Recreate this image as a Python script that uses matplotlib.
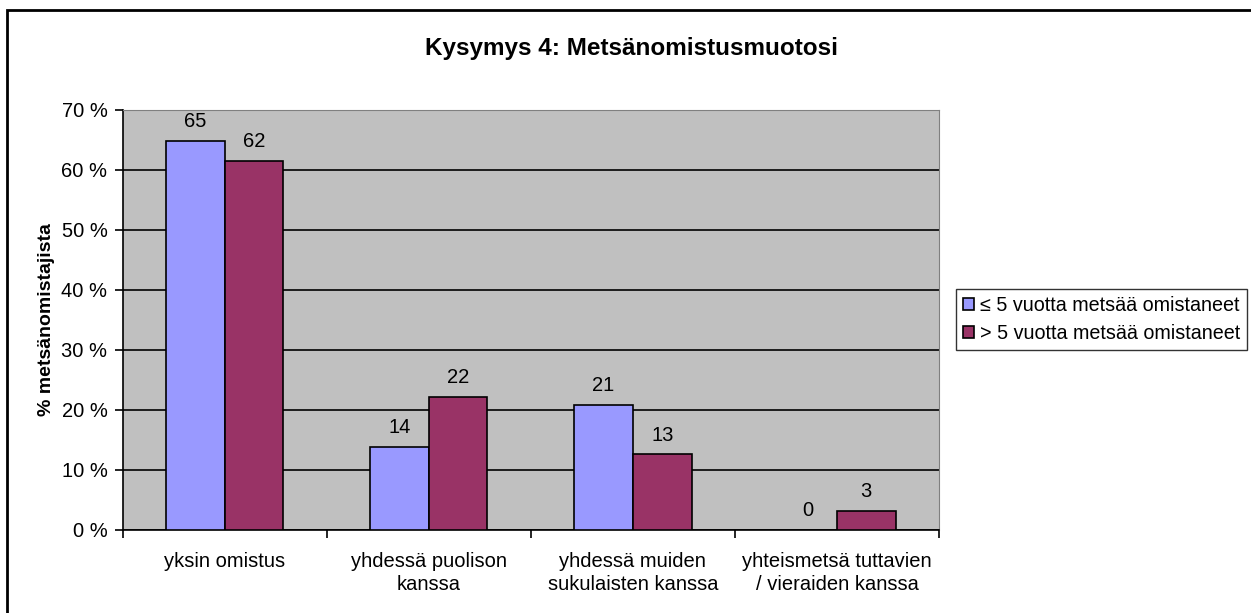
import numpy as np
import matplotlib.pyplot as plt
from matplotlib.patches import Rectangle

plt.rcParams['font.family'] = ['Liberation Sans', 'DejaVu Sans']

# Data
categories = ['yksin omistus', 'yhdessä puolison\nkanssa',
              'yhdessä muiden\nsukulaisten kanssa',
              'yhteismetsä tuttavien\n/ vieraiden kanssa']
series_names = ['≤ 5 vuotta metsää omistaneet', '> 5 vuotta metsää omistaneet']
short_owners = [64.8, 13.9, 20.9, 0.0]
long_owners = [61.5, 22.2, 12.6, 3.2]
colors = ['#9999FF', '#993366']

fig = plt.figure(figsize=(12.51, 6.13), dpi=100)
ax = fig.add_axes([0.0981, 0.1354, 0.6525, 0.6852])
ax.set_facecolor('#C0C0C0')

x = np.arange(len(categories))
w = 0.2875
b1 = ax.bar(x - w / 2, short_owners, w, color=colors[0], edgecolor='black',
            linewidth=1.2, label=series_names[0], zorder=3)
b2 = ax.bar(x + w / 2, long_owners, w, color=colors[1], edgecolor='black',
            linewidth=1.2, label=series_names[1], zorder=3)

# value labels above bars
for bars, vals in [(b1, short_owners), (b2, long_owners)]:
    for rect, v in zip(bars, vals):
        if v == 0:
            rect.set_linewidth(0)
        ax.annotate(f'{v:.0f}', (rect.get_x() + rect.get_width() / 2, v),
                    xytext=(0, 7), textcoords='offset points',
                    ha='center', va='bottom', fontsize=14.5)

ax.set_xlim(-0.5, len(categories) - 0.5)
ax.set_ylim(0, 70)
ax.set_yticks(range(0, 71, 10))
ax.set_yticklabels([f'{t} %' for t in range(0, 71, 10)], fontsize=14.5)
ax.yaxis.grid(True, color='black', linewidth=1.2, zorder=1)
ax.set_axisbelow(True)

ax.set_xticks(x)
ax.set_xticklabels(categories, fontsize=14.5, linespacing=1.25)
ax.tick_params(axis='x', length=0, pad=16)
ax.set_xticks(np.arange(-0.5, len(categories), 1), minor=True)
ax.tick_params(axis='x', which='minor', length=6, direction='out', width=1.2)
ax.tick_params(axis='y', length=6, direction='out', width=1.2, pad=5)

for s in ['top', 'right']:
    ax.spines[s].set_color('#808080')
for s in ['left', 'bottom']:
    ax.spines[s].set_color('black')
    ax.spines[s].set_linewidth(1.2)

ax.set_ylabel('% metsänomistajista', fontsize=14, fontweight='bold', labelpad=5)
fig.text(0.505, 1 - 55 / 613, 'Kysymys 4: Metsänomistusmuotosi', ha='center',
         va='baseline', fontsize=17.5, fontweight='bold')

leg = fig.legend(loc='upper left', bbox_to_anchor=(956 / 1251, 1 - 289 / 613),
                 fontsize=14.2, frameon=True, fancybox=False, edgecolor='black',
                 handlelength=0.55, handleheight=0.55, handletextpad=0.3,
                 borderpad=0.35, labelspacing=0.45, borderaxespad=0)
leg.get_frame().set_linewidth(1)

# outer chart frame
fig.patches.append(Rectangle((7 / 1251, -0.05), 1.2, 1 - 10 / 613 + 0.05,
                             transform=fig.transFigure, fill=False,
                             edgecolor='black', linewidth=2))

plt.savefig('out.png', dpi=100)
